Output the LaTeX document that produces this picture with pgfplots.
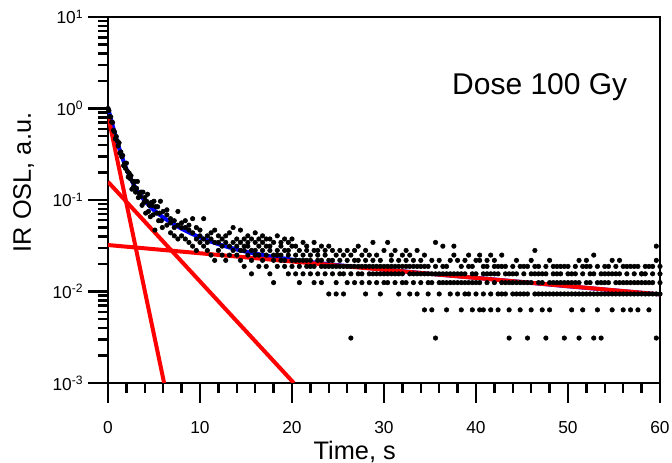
\documentclass[border=0pt]{standalone}
\usepackage{fontspec}
\setmainfont{Liberation Sans}
\usepackage{pgfplots}
\pgfplotsset{compat=1.18}
\usepackage{pgfplotstable}

% early channels (0.1 s)
\pgfplotstableread{
t y
0.0 1.0000
0.1 0.9500
0.2 0.8156
0.3 0.8094
0.4 0.7094
0.5 0.7031
0.6 0.5781
0.7 0.5563
0.8 0.4656
0.9 0.4938
1.0 0.4438
1.1 0.3906
1.2 0.4219
1.3 0.3250
1.4 0.3344
1.5 0.2969
1.6 0.3063
1.7 0.2375
1.8 0.2500
1.9 0.2219
2.0 0.2531
2.1 0.2063
2.2 0.1781
2.3 0.1969
2.4 0.1719
2.5 0.1844
2.6 0.1313
2.7 0.1594
2.8 0.1406
2.9 0.1594
3.0 0.1219
3.1 0.1344
3.2 0.1594
3.3 0.1063
3.4 0.1188
3.5 0.1094
3.6 0.1219
3.7 0.0875
3.8 0.1219
3.9 0.0938
4.0 0.1063
4.1 0.0719
4.2 0.0969
4.3 0.1156
4.4 0.0750
4.5 0.0875
4.6 0.0656
4.7 0.0938
4.8 0.0875
4.9 0.0688
5.0 0.0969
5.1 0.0469
5.2 0.0844
5.3 0.0719
5.4 0.0844
5.5 0.0594
5.6 0.0719
5.7 0.0969
5.8 0.0594
5.9 0.0500
6.0 0.0750
}\early

% later channels, up to four readings per 0.4 s column
\pgfplotstableread{
t a b c d
6.4 0.0688 0.0531 0.0781 nan
6.8 0.0438 0.0625 0.0563 nan
7.2 0.0594 0.0406 0.0500 nan
7.6 0.0531 0.0750 0.0375 nan
8.0 0.0406 0.0563 0.0500 nan
8.4 0.0500 0.0375 0.0594 nan
8.8 0.0344 0.0469 0.0531 nan
9.2 0.0438 0.0625 0.0313 nan
9.6 0.0375 0.0500 0.0281 nan
10.0 0.0469 0.0344 0.0406 nan
10.4 0.0625 0.0375 0.0313 nan
10.8 0.0281 0.0406 0.0344 nan
11.2 0.0375 0.0250 0.0438 nan
11.6 0.0344 0.0469 0.0219 nan
12.0 0.0406 0.0281 0.0344 nan
12.4 0.0250 0.0375 0.0313 nan
12.8 0.0344 0.0219 0.0406 nan
13.2 0.0313 0.0438 0.0250 nan
13.6 0.0281 0.0344 0.0500 nan
14.0 0.0375 0.0250 0.0313 nan
14.4 0.0219 0.0344 0.0281 0.0469
14.8 0.0313 0.0188 0.0375 0.0281
15.2 0.0250 0.0406 0.0313 0.0344
15.6 0.0375 0.0219 0.0281 0.0156
16.0 0.0281 0.0344 0.0250 0.0438
16.4 0.0188 0.0313 0.0375 0.0250
16.8 0.0344 0.0219 0.0281 0.0406
17.2 0.0250 0.0375 0.0188 0.0313
17.6 0.0313 0.0156 0.0281 0.0375
18.0 0.0219 0.0344 0.0250 0.0125
18.4 0.0406 0.0281 0.0188 0.0250
18.8 0.0250 0.0313 0.0219 0.0344
19.2 0.0188 0.0281 0.0375 0.0219
19.6 0.0281 0.0156 0.0250 0.0344
20.0 0.0219 0.0313 0.0188 0.0375
20.4 0.0250 0.0156 0.0313 0.0219
20.8 0.0188 0.0281 0.0219 0.0125
21.2 0.0344 0.0219 0.0156 0.0250
21.6 0.0219 0.0281 0.0188 0.0313
22.0 0.0156 0.0250 0.0219 0.0188
22.4 0.0281 0.0188 0.0344 0.0125
22.8 0.0219 0.0156 0.0250 0.0281
23.2 0.0188 0.0313 0.0125 0.0219
23.6 0.0250 0.0188 0.0281 0.0156
24.0 0.0094 0.0219 0.0188 0.0313
24.4 0.0219 0.0281 0.0156 0.0188
24.8 0.0188 0.0125 0.0250 0.0094
25.2 0.0281 0.0188 0.0219 0.0156
25.6 0.0156 0.0250 0.0094 0.0188
26.0 0.0219 0.0188 0.0281 0.0125
26.4 0.0031 0.0188 0.0250 0.0156
26.8 0.0188 0.0281 0.0125 0.0219
27.2 0.0156 0.0219 0.0188 0.0313
27.6 0.0250 0.0125 0.0188 0.0156
28.0 0.0188 0.0219 0.0094 0.0281
28.4 0.0125 0.0188 0.0250 0.0156
28.8 0.0219 0.0156 0.0188 0.0344
29.2 0.0188 0.0250 0.0125 0.0156
29.6 0.0156 0.0094 0.0219 0.0188
30.0 0.0281 0.0188 0.0156 0.0125
30.4 0.0344 0.0156 0.0188 0.0125
30.8 0.0188 0.0250 0.0156 0.0219
31.2 0.0125 0.0188 0.0281 0.0156
31.6 0.0219 0.0156 0.0094 0.0188
32.0 0.0156 0.0250 0.0188 0.0125
32.4 0.0188 0.0125 0.0219 0.0281
32.8 0.0094 0.0188 0.0156 0.0250
33.2 0.0219 0.0156 0.0125 0.0188
33.6 0.0156 0.0281 0.0188 0.0094
34.0 0.0188 0.0125 0.0219 0.0156
34.4 0.0063 0.0156 0.0250 0.0188
34.8 0.0125 0.0094 0.0188 0.0156
35.2 0.0063 0.0219 0.0156 0.0125
35.6 0.0031 0.0344 0.0156 0.0188
36.0 0.0156 0.0125 0.0219 0.0094
36.4 0.0313 0.0188 0.0125 0.0156
36.8 0.0125 0.0063 0.0188 0.0156
37.2 0.0156 0.0219 0.0094 0.0125
37.6 0.0313 0.0125 0.0250 0.0156
38.0 0.0094 0.0156 0.0125 0.0219
38.4 0.0156 0.0188 0.0063 0.0125
38.8 0.0125 0.0219 0.0156 0.0094
39.2 0.0188 0.0094 0.0125 0.0250
39.6 0.0063 0.0156 0.0188 0.0125
40.0 0.0156 0.0125 0.0094 0.0219
40.4 0.0250 0.0125 0.0219 0.0063
40.8 0.0156 0.0063 0.0188 0.0094
41.2 0.0219 0.0125 0.0188 0.0156
41.6 0.0250 0.0094 0.0156 0.0063
42.0 0.0125 0.0188 0.0219 0.0156
42.4 0.0063 0.0156 0.0094 0.0188
42.8 0.0250 0.0125 0.0188 0.0094
43.2 0.0156 0.0094 0.0125 0.0188
43.6 0.0031 0.0063 0.0125 0.0156
44.0 0.0094 0.0188 0.0156 0.0125
44.4 0.0156 0.0125 0.0094 0.0219
44.8 0.0063 0.0125 0.0188 0.0094
45.2 0.0094 0.0188 0.0156 0.0125
45.6 0.0031 0.0125 0.0094 0.0188
46.0 0.0219 0.0156 0.0063 0.0125
46.4 0.0281 0.0094 0.0188 0.0156
46.8 0.0094 0.0156 0.0125 0.0188
47.2 0.0063 0.0125 0.0094 0.0156
47.6 0.0188 0.0094 0.0156 0.0031
48.0 0.0125 0.0063 0.0094 0.0219
48.4 0.0094 0.0156 0.0125 0.0188
48.8 0.0156 0.0094 0.0188 0.0125
49.2 0.0188 0.0125 0.0094 0.0156
49.6 0.0125 0.0188 0.0031 0.0094
50.0 0.0094 0.0156 0.0125 0.0188
50.4 0.0125 0.0063 0.0156 0.0094
50.8 0.0094 0.0188 0.0156 0.0125
51.2 0.0219 0.0031 0.0125 0.0094
51.6 0.0156 0.0094 0.0063 0.0188
52.0 0.0219 0.0125 0.0188 0.0094
52.4 0.0125 0.0094 0.0156 0.0188
52.8 0.0250 0.0031 0.0094 0.0156
53.2 0.0094 0.0125 0.0063 0.0188
53.6 0.0031 0.0156 0.0094 0.0125
54.0 0.0125 0.0156 0.0188 0.0094
54.4 0.0094 0.0156 0.0125 0.0188
54.8 0.0219 0.0094 0.0063 0.0156
55.2 0.0156 0.0125 0.0094 0.0188
55.6 0.0156 0.0094 0.0125 0.0219
56.0 0.0094 0.0188 0.0063 0.0125
56.4 0.0125 0.0188 0.0156 0.0094
56.8 0.0188 0.0094 0.0125 0.0063
57.2 0.0188 0.0156 0.0094 0.0125
57.6 0.0125 0.0094 0.0188 0.0063
58.0 0.0094 0.0156 0.0156 0.0125
58.4 0.0156 0.0188 0.0125 0.0094
58.8 0.0094 0.0125 0.0063 0.0188
59.2 0.0188 0.0094 0.0156 0.0125
59.6 0.0313 0.0031 0.0219 0.0094
60.0 0.0125 0.0094 0.0156 0.0188
}\late

\begin{document}
\begin{tikzpicture}
\path[use as bounding box] (-81pt,-60pt) rectangle (423pt,287.25pt);
\begin{axis}[
  scale only axis, width=414pt, height=274.5pt,
  at={(0pt,0pt)}, anchor=south west,
  ymode=log, xmin=0, xmax=60, ymin=1e-3, ymax=10,
  xtick={0,10,20,30,40,50,60}, minor x tick num=4,
  ytick={0.001,0.01,0.1,1,10},
  yticklabels={10\textsuperscript{-3},10\textsuperscript{-2},10\textsuperscript{-1},10\textsuperscript{0},10\textsuperscript{1}},
  tick align=outside, tick pos=left,
  major tick length=15pt, minor tick length=7.5pt,
  tick style={black, line width=1.8pt},
  axis line style={line width=1.8pt},
  ticklabel style={font=\fontsize{13}{15}\selectfont},
  xticklabel style={yshift=-10.5pt},
  /pgf/number format/assume math mode=true,
  unbounded coords=discard,
  xlabel={Time, s},
  xlabel style={at={(axis description cs:0.447,-0.2095)}, anchor=base, font=\fontsize{19}{22}\selectfont},
  ylabel={IR OSL, a.u.},
  ylabel style={at={(axis description cs:-0.1395,0.548)}, rotate=0, anchor=base, font=\fontsize{19}{22}\selectfont},
]
\addplot[blue, line width=3pt] coordinates {
 (0,1.030) (0.2,0.856) (0.4,0.715) (0.6,0.601) (0.8,0.509) (1.0,0.434)
 (1.2,0.372) (1.4,0.322) (1.6,0.281) (1.8,0.248) (2.0,0.219) (2.4,0.177)
 (2.8,0.147) (3.2,0.125) (3.6,0.110) (4.0,0.0976) (4.5,0.0862) (5.0,0.0774)
 (5.5,0.0704) (6.0,0.0645) (7.0,0.0554) (8.0,0.0485) (9,0.0432) (10,0.0390)
 (11,0.0356) (12,0.0329) (13,0.0307) (14,0.0288) (15,0.0272) (16,0.0259)
 (18,0.0239) (20,0.0223) (22,0.0210) (25,0.0194) (30,0.0174) (35,0.0156)
 (40,0.0141) (45,0.0127) (50,0.0114) (55,0.0103) (60,0.0093)};
\addplot[red, line width=3pt] coordinates {(0,0.84) (6.1,0.001)};
\addplot[red, line width=3pt] coordinates {(0,0.158) (20.2,0.001)};
\addplot[red, line width=3pt] coordinates {(0,0.0322) (60,0.0093)};
\addplot[only marks, mark=*, mark size=1.7pt, black] table[x=t,y=y] {\early};
\addplot[only marks, mark=*, mark size=1.7pt, black] table[x=t,y=a] {\late};
\addplot[only marks, mark=*, mark size=1.7pt, black] table[x=t,y=b] {\late};
\addplot[only marks, mark=*, mark size=1.7pt, black] table[x=t,y=c] {\late};
\addplot[only marks, mark=*, mark size=1.7pt, black] table[x=t,y=d] {\late};
\node[anchor=base east, font=\fontsize{22.5}{25}\selectfont] at (rel axis cs:0.9493,0.7869) {Dose 100 Gy};
\end{axis}
\end{tikzpicture}
\end{document}
